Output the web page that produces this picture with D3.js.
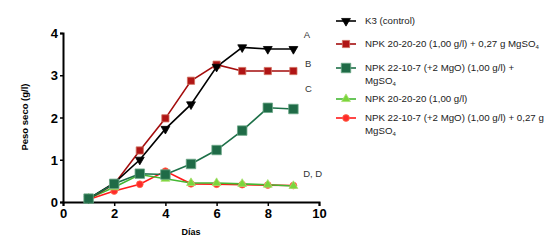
<!DOCTYPE html>
<html>
<head>
<meta charset="utf-8">
<script src="https://cdn.jsdelivr.net/npm/d3@7"></script>
<style>
  body { margin: 0; background: #fff; }
  text { font-family: "Liberation Sans", Arial, sans-serif; }
</style>
</head>
<body>
<svg id="chart" width="559" height="246"></svg>
<script>
const days = [1, 2, 3, 4, 5, 6, 7, 8, 9];
const k3 = [0.08, 0.45, 1.0, 1.73, 2.31, 3.2, 3.66, 3.62, 3.62];
const npk20Mg = [0.07, 0.42, 1.22, 1.98, 2.87, 3.25, 3.1, 3.1, 3.1];
const npk22Mg = [0.08, 0.43, 0.67, 0.65, 0.9, 1.23, 1.69, 2.23, 2.2];
const npk20 = [0.08, 0.35, 0.65, 0.55, 0.45, 0.45, 0.43, 0.41, 0.38];
const npk22Mg027 = [0.06, 0.26, 0.42, 0.73, 0.43, 0.42, 0.41, 0.4, 0.39];
const xTicks = [0, 2, 4, 6, 8, 10];
const yTicks = [0, 1, 2, 3, 4];
const groupLabels = [
  { text: "A", day: 9.4, value: 3.88 },
  { text: "B", day: 9.45, value: 3.2 },
  { text: "C", day: 9.45, value: 2.6 },
  { text: "D, D", day: 9.38, value: 0.59 }
];

const series = [
  { name: "npk22Mg027", values: npk22Mg027, line: "#ff1a1a", fill: "#ff2a2a", stroke: "#ff6a4a", shape: d3.symbolCircle, size: 36 },
  { name: "npk20", values: npk20, line: "#44b833", fill: "#7ad63c", stroke: "#a8e070", shape: d3.symbolTriangle, size: 34 },
  { name: "npk20Mg", values: npk20Mg, line: "#a40d0d", fill: "#b01515", stroke: "#d07060", shape: d3.symbolSquare, size: 52 },
  { name: "k3", values: k3, line: "#000000", fill: "#000000", stroke: "#000000", shape: d3.symbolTriangle, size: 34, rotate: 180 },
  { name: "npk22Mg", values: npk22Mg, line: "#1d7048", fill: "#1f6b47", stroke: "#6ca888", shape: d3.symbolSquare, size: 90 }
];

const svg = d3.select("#chart");
const x = d3.scaleLinear().domain([0, 10]).range([63, 319]);
const y = d3.scaleLinear().domain([0, 4]).range([202, 33]);

// axes
const xAxis = svg.append("g").attr("transform", "translate(0,202)")
  .call(d3.axisBottom(x).tickValues(xTicks).tickFormat(d3.format("d")).tickSize(4).tickPadding(3));
const yAxis = svg.append("g").attr("transform", "translate(63,0)")
  .call(d3.axisLeft(y).tickValues(yTicks).tickFormat(d3.format("d")).tickSize(3).tickPadding(2));
[xAxis, yAxis].forEach(a => {
  a.select(".domain").attr("stroke", "#000").attr("stroke-width", 2);
  a.selectAll(".tick line").attr("stroke", "#000").attr("stroke-width", 1.5);
  a.selectAll(".tick text").attr("fill", "#000")
    .style("font-size", "13px").style("font-weight", "bold")
    .style("font-family", "'Liberation Sans', Arial, sans-serif");
});
yAxis.selectAll(".tick text").attr("dy", "0.36em");

svg.append("text").attr("x", 191).attr("y", 235).attr("text-anchor", "middle")
  .style("font-size", "9px").style("font-weight", "bold").text("Días");
svg.append("text").attr("transform", "translate(28,117) rotate(-90)")
  .attr("text-anchor", "middle").style("font-size", "9.5px").style("font-weight", "bold")
  .text("Peso seco (g/l)");

// lines + markers
const line = d3.line().x((d, i) => x(days[i])).y(d => y(d));
series.forEach(s => {
  svg.append("path").datum(s.values).attr("d", line)
    .attr("fill", "none").attr("stroke", s.line).attr("stroke-width", 1.6);
});
series.forEach(s => {
  svg.append("g").selectAll("path").data(s.values).enter().append("path")
    .attr("d", d3.symbol().type(s.shape).size(s.size))
    .attr("transform", (d, i) => `translate(${x(days[i])},${y(d)}) rotate(${s.rotate || 0})`)
    .attr("fill", s.fill).attr("stroke", s.stroke).attr("stroke-width", 0.8);
});

// group letters
svg.selectAll(".grp").data(groupLabels).enter().append("text")
  .attr("class", "grp").attr("x", d => x(d.day)).attr("y", d => y(d.value))
  .style("font-size", "9.5px").attr("fill", "#333").text(d => d.text);

// legend
const legend = [
  { s: series[3], y: 21, lines: ["K3 (control)"] },
  { s: series[2], y: 44, lines: ["NPK 20-20-20 (1,00 g/l) + 0,27 g MgSO|4"] },
  { s: series[4], y: 68, lines: ["NPK 22-10-7 (+2 MgO) (1,00 g/l) +", "MgSO|4"] },
  { s: series[1], y: 99, lines: ["NPK 20-20-20 (1,00 g/l)"] },
  { s: series[0], y: 118, lines: ["NPK 22-10-7 (+2 MgO) (1,00 g/l) + 0,27 g", "MgSO|4"] }
];
const lg = svg.append("g");
legend.forEach(item => {
  const s = item.s;
  lg.append("line").attr("x1", 336).attr("x2", 356).attr("y1", item.y).attr("y2", item.y)
    .attr("stroke", s.line).attr("stroke-width", 1.6);
  lg.append("path").attr("d", d3.symbol().type(s.shape).size(s.size))
    .attr("transform", `translate(346,${item.y}) rotate(${s.rotate || 0})`)
    .attr("fill", s.fill).attr("stroke", s.stroke).attr("stroke-width", 0.8);
  item.lines.forEach((t, k) => {
    const txt = lg.append("text").attr("x", 365).attr("y", item.y + 3 + k * 13)
      .style("font-size", "9.7px").attr("fill", "#222");
    const parts = t.split("|");
    txt.append("tspan").text(parts[0]);
    if (parts[1]) txt.append("tspan").attr("dy", 2).style("font-size", "6px").text(parts[1]);
  });
});
</script>
</body>
</html>
